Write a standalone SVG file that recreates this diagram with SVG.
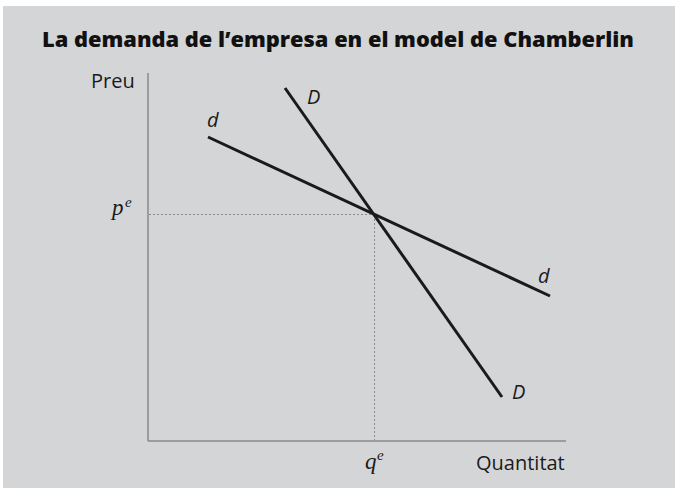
<svg xmlns="http://www.w3.org/2000/svg" width="675" height="490" viewBox="0 0 675 490">
<style>
.lbl{font-family:"Open Sans","Liberation Sans",sans-serif;font-size:20px;fill:#1a1a1a}
.it{font-style:italic}
.math{font-family:"Liberation Serif",serif;font-style:italic;fill:#1a1a1a}
.curve{stroke:#1a1a1a;stroke-width:3;stroke-linecap:butt;fill:none}
.axis{stroke:#8a8a8a;stroke-width:1.5;fill:none}
.guide{stroke:#8a8a8a;stroke-width:1;stroke-dasharray:2,2;fill:none}
</style>
<rect x="0" y="0" width="675" height="490" fill="#ffffff"/>
<rect x="3" y="6" width="672" height="482" fill="#d4d5d7"/>
<text x="338" y="47" text-anchor="middle" font-family="'Open Sans','Liberation Sans',sans-serif" font-weight="800" font-size="21" textLength="592" lengthAdjust="spacingAndGlyphs" fill="#111">La demanda de l’empresa en el model de Chamberlin</text>
<g id="axes">
<line class="axis" x1="148" y1="73" x2="148" y2="441"/>
<line class="axis" x1="148" y1="441" x2="566" y2="441"/>
<text class="lbl" x="91" y="88">Preu</text>
<text class="lbl" x="476" y="470">Quantitat</text>
</g>
<g id="guides">
<line class="guide" x1="149" y1="214.5" x2="374" y2="214.5"/>
<line class="guide" x1="374.5" y1="215" x2="374.5" y2="440"/>
<text class="math" x="112" y="215" font-size="23">p</text>
<text class="math" x="125" y="207" font-size="15">e</text>
<text class="math" x="365" y="469" font-size="23">q</text>
<text class="math" x="377" y="460" font-size="15">e</text>
</g>
<g id="connectors">
<g id="curve-d">
<line class="curve" x1="208" y1="137" x2="550" y2="296"/>
<text class="lbl it" x="207" y="127">d</text>
<text class="lbl it" x="538" y="283">d</text>
</g>
<g id="curve-D">
<line class="curve" x1="285" y1="88" x2="502" y2="397"/>
<text class="lbl it" x="307" y="104">D</text>
<text class="lbl it" x="512" y="399">D</text>
</g>
</g>
</svg>
